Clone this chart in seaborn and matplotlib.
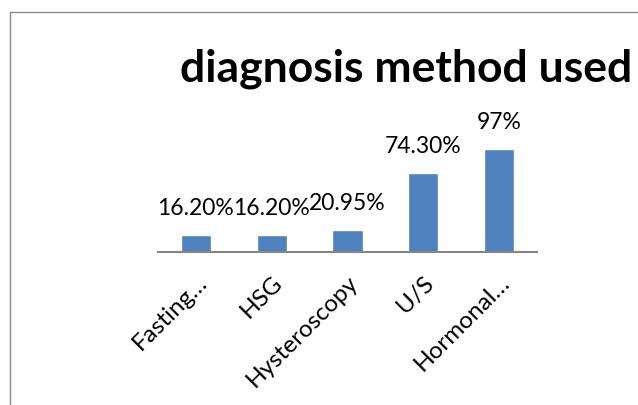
import matplotlib
matplotlib.use("Agg")
import matplotlib.pyplot as plt
import seaborn as sns
import pandas as pd
from matplotlib.lines import Line2D

categories = ["Fasting…", "HSG", "Hysteroscopy", "U/S", "Hormonal…"]
values = [16.2, 16.2, 20.95, 74.3, 97]
value_labels = ["16.20%", "16.20%", "20.95%", "74.30%", "97%"]
title = "diagnosis method used"

sns.set_theme(style="white")
plt.rcParams["font.family"] = ["Lato", "DejaVu Sans"]

W, H = 638, 405
fig = plt.figure(figsize=(W / 100, H / 100), dpi=100)
fig.patch.set_facecolor("white")

left, right, bottom, top = 158, 537, 252, 100
ax = fig.add_axes([left / W, 1 - bottom / H, (right - left) / W, (bottom - top) / H])

df = pd.DataFrame({"cat": categories, "val": values})
sns.barplot(data=df, x="cat", y="val", color="#4F81BD", saturation=1, width=0.4, ax=ax)

ax.set_ylim(0, (bottom - top) / 1.062)
ax.set_xlim(-0.5, len(categories) - 0.5)
ax.set_xlabel("")
ax.set_ylabel("")
ax.set_yticks([])
for s in ["left", "right", "top"]:
    ax.spines[s].set_visible(False)
ax.spines["bottom"].set_color("#868686")
ax.spines["bottom"].set_linewidth(1.5)
ax.tick_params(axis="x", length=0, pad=14.5, labelsize=17.5, labelcolor="black")
plt.setp(ax.get_xticklabels(), rotation=45, ha="right", rotation_mode="anchor")

ax.bar_label(ax.containers[0], labels=value_labels, padding=11.5, fontsize=16.5, color="black")

fig.text(406 / W, 1 - 69 / H, title, ha="center", va="center", fontsize=32, fontweight="bold", color="black")

fig.add_artist(Line2D([10 / W, 10 / W], [0, 1 - 12 / H], transform=fig.transFigure, color="#898989", lw=1))
fig.add_artist(Line2D([10 / W, 1], [1 - 12 / H, 1 - 12 / H], transform=fig.transFigure, color="#898989", lw=1))

fig.savefig("out.png", dpi=100)
